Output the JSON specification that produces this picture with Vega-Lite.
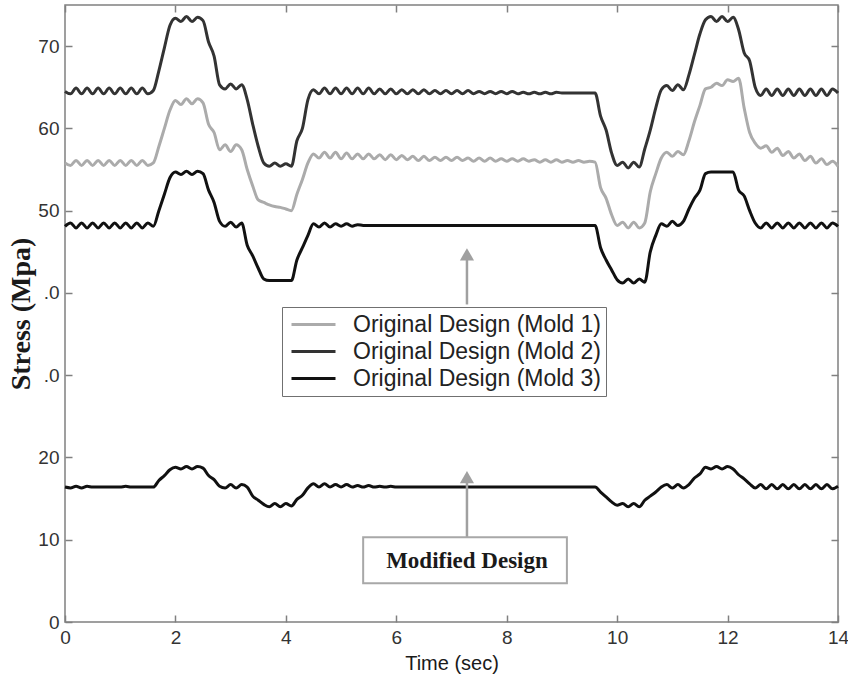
{
  "$schema": "https://vega.github.io/schema/vega-lite/v6.json",
  "width": 773,
  "height": 617,
  "autosize": "none",
  "padding": {"left": 65, "top": 5, "right": 10, "bottom": 60},
  "background": "white",
  "datasets": {
    "m1": [
      {"t":0.0,"v":55.8},{"t":0.1,"v":55.5},{"t":0.2,"v":56.1},{"t":0.3,"v":55.5},{"t":0.4,"v":56.1},{"t":0.5,"v":55.5},{"t":0.6,"v":56.1},{"t":0.7,"v":55.5},{"t":0.8,"v":56.1},{"t":0.9,"v":55.5},{"t":1.0,"v":56.1},{"t":1.1,"v":55.5},{"t":1.2,"v":56.1},{"t":1.3,"v":55.5},{"t":1.4,"v":56.1},{"t":1.5,"v":55.5},{"t":1.6,"v":55.8},
      {"t":1.7,"v":57.8},{"t":1.8,"v":60.0},{"t":1.9,"v":62.2},{"t":2.0,"v":63.4},{"t":2.1,"v":62.9},{"t":2.2,"v":63.6},{"t":2.3,"v":63.0},{"t":2.4,"v":63.6},{"t":2.5,"v":63.1},
      {"t":2.6,"v":60.5},{"t":2.7,"v":59.5},{"t":2.8,"v":57.4},{"t":2.9,"v":58.0},{"t":3.0,"v":57.2},{"t":3.1,"v":58.0},{"t":3.2,"v":57.4},
      {"t":3.3,"v":55.0},{"t":3.4,"v":53.0},{"t":3.5,"v":51.3},{"t":3.6,"v":51.0},{"t":3.7,"v":50.7},{"t":3.8,"v":50.5},{"t":3.9,"v":50.4},{"t":4.0,"v":50.2},{"t":4.1,"v":50.0},
      {"t":4.2,"v":52.0},{"t":4.3,"v":53.8},{"t":4.4,"v":55.8},{"t":4.5,"v":56.9},
      {"t":4.6,"v":56.4},{"t":4.7,"v":57.1},{"t":4.8,"v":56.4},{"t":4.9,"v":57.1},{"t":5.0,"v":56.3},{"t":5.1,"v":57.0},{"t":5.2,"v":56.3},{"t":5.3,"v":56.9},{"t":5.4,"v":56.3},{"t":5.5,"v":56.9},{"t":5.6,"v":56.3},{"t":5.7,"v":56.8},{"t":5.8,"v":56.2},{"t":5.9,"v":56.8},{"t":6.0,"v":56.2},{"t":6.1,"v":56.7},{"t":6.2,"v":56.2},{"t":6.3,"v":56.6},{"t":6.4,"v":56.1},{"t":6.5,"v":56.6},{"t":6.6,"v":56.1},{"t":6.7,"v":56.5},{"t":6.8,"v":56.1},{"t":6.9,"v":56.5},{"t":7.0,"v":56.1},{"t":7.1,"v":56.5},{"t":7.2,"v":56.1},{"t":7.3,"v":56.4},{"t":7.4,"v":56.0},{"t":7.5,"v":56.4},{"t":7.6,"v":56.0},{"t":7.7,"v":56.4},{"t":7.8,"v":56.0},{"t":7.9,"v":56.3},{"t":8.0,"v":56.0},{"t":8.1,"v":56.3},{"t":8.2,"v":56.0},{"t":8.3,"v":56.3},{"t":8.4,"v":56.0},{"t":8.5,"v":56.2},{"t":8.6,"v":55.9},{"t":8.7,"v":56.2},{"t":8.8,"v":55.9},{"t":8.9,"v":56.2},{"t":9.0,"v":55.9},{"t":9.1,"v":56.1},{"t":9.2,"v":55.9},{"t":9.3,"v":56.1},{"t":9.4,"v":55.9},{"t":9.5,"v":56.0},{"t":9.6,"v":55.9},
      {"t":9.7,"v":52.8},{"t":9.8,"v":51.5},{"t":9.9,"v":49.5},{"t":10.0,"v":48.2},{"t":10.1,"v":48.6},{"t":10.2,"v":47.9},{"t":10.3,"v":48.6},{"t":10.4,"v":47.9},{"t":10.5,"v":48.5},
      {"t":10.6,"v":52.3},{"t":10.7,"v":54.5},{"t":10.8,"v":56.4},{"t":10.9,"v":57.1},{"t":11.0,"v":56.6},{"t":11.1,"v":57.2},{"t":11.2,"v":56.8},
      {"t":11.3,"v":58.5},{"t":11.4,"v":60.8},{"t":11.5,"v":62.8},{"t":11.6,"v":64.8},{"t":11.7,"v":65.0},{"t":11.8,"v":65.5},{"t":11.9,"v":65.2},{"t":12.0,"v":65.9},{"t":12.1,"v":65.7},{"t":12.2,"v":66.1},
      {"t":12.3,"v":62.5},{"t":12.4,"v":59.5},{"t":12.5,"v":58.2},{"t":12.6,"v":57.6},{"t":12.7,"v":57.9},{"t":12.8,"v":57.1},{"t":12.9,"v":57.6},{"t":13.0,"v":56.7},{"t":13.1,"v":57.2},{"t":13.2,"v":56.4},{"t":13.3,"v":56.9},{"t":13.4,"v":56.1},{"t":13.5,"v":56.6},{"t":13.6,"v":55.8},{"t":13.7,"v":56.3},{"t":13.8,"v":55.6},{"t":13.9,"v":56.0},{"t":14.0,"v":55.4}
    ],
    "m2": [
      {"t":0.0,"v":64.5},{"t":0.1,"v":64.2},{"t":0.2,"v":64.9},{"t":0.3,"v":64.2},{"t":0.4,"v":64.9},{"t":0.5,"v":64.2},{"t":0.6,"v":64.9},{"t":0.7,"v":64.2},{"t":0.8,"v":64.9},{"t":0.9,"v":64.2},{"t":1.0,"v":64.9},{"t":1.1,"v":64.2},{"t":1.2,"v":64.9},{"t":1.3,"v":64.2},{"t":1.4,"v":64.9},{"t":1.5,"v":64.2},{"t":1.6,"v":64.6},
      {"t":1.7,"v":67.0},{"t":1.8,"v":69.8},{"t":1.9,"v":72.5},{"t":2.0,"v":73.4},{"t":2.1,"v":73.0},{"t":2.2,"v":73.6},{"t":2.3,"v":73.0},{"t":2.4,"v":73.5},{"t":2.5,"v":73.1},
      {"t":2.6,"v":70.5},{"t":2.7,"v":68.8},{"t":2.8,"v":65.3},{"t":2.9,"v":64.8},{"t":3.0,"v":65.4},{"t":3.1,"v":64.8},{"t":3.2,"v":65.3},
      {"t":3.3,"v":63.5},{"t":3.4,"v":60.5},{"t":3.5,"v":57.8},{"t":3.6,"v":55.8},{"t":3.7,"v":55.4},{"t":3.8,"v":55.8},{"t":3.9,"v":55.4},{"t":4.0,"v":55.7},{"t":4.1,"v":55.4},
      {"t":4.2,"v":58.5},{"t":4.3,"v":60.0},{"t":4.4,"v":63.5},{"t":4.5,"v":64.7},
      {"t":4.6,"v":64.2},{"t":4.7,"v":64.9},{"t":4.8,"v":64.2},{"t":4.9,"v":64.9},{"t":5.0,"v":64.2},{"t":5.1,"v":64.9},{"t":5.2,"v":64.2},{"t":5.3,"v":64.9},{"t":5.4,"v":64.2},{"t":5.5,"v":64.9},{"t":5.6,"v":64.2},{"t":5.7,"v":64.8},{"t":5.8,"v":64.2},{"t":5.9,"v":64.8},{"t":6.0,"v":64.2},{"t":6.1,"v":64.7},{"t":6.2,"v":64.2},{"t":6.3,"v":64.7},{"t":6.4,"v":64.2},{"t":6.5,"v":64.7},{"t":6.6,"v":64.2},{"t":6.7,"v":64.6},{"t":6.8,"v":64.2},{"t":6.9,"v":64.6},{"t":7.0,"v":64.2},{"t":7.1,"v":64.6},{"t":7.2,"v":64.2},{"t":7.3,"v":64.6},{"t":7.4,"v":64.2},{"t":7.5,"v":64.5},{"t":7.6,"v":64.2},{"t":7.7,"v":64.5},{"t":7.8,"v":64.2},{"t":7.9,"v":64.5},{"t":8.0,"v":64.2},{"t":8.1,"v":64.5},{"t":8.2,"v":64.2},{"t":8.3,"v":64.4},{"t":8.4,"v":64.2},{"t":8.5,"v":64.4},{"t":8.6,"v":64.2},{"t":8.7,"v":64.4},{"t":8.8,"v":64.2},{"t":8.9,"v":64.4},{"t":9.0,"v":64.3},{"t":9.6,"v":64.3},
      {"t":9.7,"v":61.5},{"t":9.8,"v":59.8},{"t":9.9,"v":57.0},{"t":10.0,"v":55.5},{"t":10.1,"v":55.9},{"t":10.2,"v":55.2},{"t":10.3,"v":55.9},{"t":10.4,"v":55.3},
      {"t":10.5,"v":57.5},{"t":10.6,"v":59.8},{"t":10.7,"v":62.5},{"t":10.8,"v":64.7},{"t":10.9,"v":65.2},{"t":11.0,"v":64.6},{"t":11.1,"v":65.3},{"t":11.2,"v":64.7},
      {"t":11.3,"v":66.5},{"t":11.4,"v":69.0},{"t":11.5,"v":71.5},{"t":11.6,"v":73.2},{"t":11.7,"v":73.6},{"t":11.8,"v":73.0},{"t":11.9,"v":73.6},{"t":12.0,"v":73.0},{"t":12.1,"v":73.5},
      {"t":12.2,"v":72.0},{"t":12.3,"v":69.2},{"t":12.4,"v":68.2},{"t":12.5,"v":65.0},{"t":12.6,"v":64.0},{"t":12.7,"v":64.8},{"t":12.8,"v":64.0},{"t":12.9,"v":64.8},{"t":13.0,"v":64.0},{"t":13.1,"v":64.8},{"t":13.2,"v":64.0},{"t":13.3,"v":64.8},{"t":13.4,"v":64.0},{"t":13.5,"v":64.8},{"t":13.6,"v":64.0},{"t":13.7,"v":64.8},{"t":13.8,"v":64.0},{"t":13.9,"v":64.8},{"t":14.0,"v":64.3}
    ],
    "m3": [
      {"t":0.0,"v":48.1},{"t":0.1,"v":48.5},{"t":0.2,"v":47.9},{"t":0.3,"v":48.5},{"t":0.4,"v":47.9},{"t":0.5,"v":48.5},{"t":0.6,"v":47.9},{"t":0.7,"v":48.5},{"t":0.8,"v":47.9},{"t":0.9,"v":48.5},{"t":1.0,"v":47.9},{"t":1.1,"v":48.5},{"t":1.2,"v":47.9},{"t":1.3,"v":48.5},{"t":1.4,"v":47.9},{"t":1.5,"v":48.5},{"t":1.6,"v":48.1},
      {"t":1.7,"v":50.0},{"t":1.8,"v":52.0},{"t":1.9,"v":54.0},{"t":2.0,"v":54.7},{"t":2.1,"v":54.4},{"t":2.2,"v":54.8},{"t":2.3,"v":54.4},{"t":2.4,"v":54.8},{"t":2.5,"v":54.5},
      {"t":2.6,"v":52.5},{"t":2.7,"v":51.0},{"t":2.8,"v":48.7},{"t":2.9,"v":48.1},{"t":3.0,"v":48.6},{"t":3.1,"v":48.0},{"t":3.2,"v":48.5},
      {"t":3.3,"v":45.8},{"t":3.4,"v":44.5},{"t":3.5,"v":43.0},{"t":3.6,"v":41.7},{"t":3.7,"v":41.5},{"t":4.1,"v":41.5},
      {"t":4.2,"v":44.0},{"t":4.3,"v":45.5},{"t":4.4,"v":47.0},{"t":4.5,"v":48.4},{"t":4.6,"v":48.0},{"t":4.7,"v":48.5},{"t":4.8,"v":48.0},{"t":4.9,"v":48.4},{"t":5.0,"v":48.1},{"t":5.1,"v":48.4},{"t":5.2,"v":48.1},{"t":5.3,"v":48.3},{"t":5.4,"v":48.2},{"t":9.6,"v":48.2},
      {"t":9.7,"v":45.5},{"t":9.8,"v":44.0},{"t":9.9,"v":42.8},{"t":10.0,"v":41.6},{"t":10.1,"v":41.2},{"t":10.2,"v":41.7},{"t":10.3,"v":41.2},{"t":10.4,"v":41.7},{"t":10.5,"v":41.3},
      {"t":10.6,"v":45.0},{"t":10.7,"v":47.0},{"t":10.8,"v":48.4},{"t":10.9,"v":48.1},{"t":11.0,"v":48.7},{"t":11.1,"v":48.2},{"t":11.2,"v":48.7},
      {"t":11.3,"v":50.2},{"t":11.4,"v":51.5},{"t":11.5,"v":52.5},{"t":11.6,"v":54.5},{"t":11.7,"v":54.7},{"t":12.1,"v":54.7},
      {"t":12.2,"v":52.5},{"t":12.3,"v":51.8},{"t":12.4,"v":50.0},{"t":12.5,"v":48.5},{"t":12.6,"v":47.9},{"t":12.7,"v":48.5},{"t":12.8,"v":47.9},{"t":12.9,"v":48.5},{"t":13.0,"v":47.9},{"t":13.1,"v":48.5},{"t":13.2,"v":47.9},{"t":13.3,"v":48.5},{"t":13.4,"v":47.9},{"t":13.5,"v":48.5},{"t":13.6,"v":47.9},{"t":13.7,"v":48.5},{"t":13.8,"v":47.9},{"t":13.9,"v":48.5},{"t":14.0,"v":48.1}
    ],
    "md": [
      {"t":0.0,"v":16.4},{"t":0.1,"v":16.3},{"t":0.2,"v":16.5},{"t":0.3,"v":16.3},{"t":0.4,"v":16.5},{"t":0.5,"v":16.4},{"t":1.0,"v":16.4},{"t":1.1,"v":16.5},{"t":1.2,"v":16.4},{"t":1.6,"v":16.4},
      {"t":1.7,"v":17.2},{"t":1.8,"v":17.8},{"t":1.9,"v":18.5},{"t":2.0,"v":18.8},{"t":2.1,"v":18.6},{"t":2.2,"v":18.9},{"t":2.3,"v":18.6},{"t":2.4,"v":18.9},{"t":2.5,"v":18.7},
      {"t":2.6,"v":17.8},{"t":2.7,"v":17.3},{"t":2.8,"v":16.5},{"t":2.9,"v":16.3},{"t":3.0,"v":16.7},{"t":3.1,"v":16.3},{"t":3.2,"v":16.7},{"t":3.3,"v":16.4},
      {"t":3.4,"v":15.3},{"t":3.5,"v":14.8},{"t":3.6,"v":14.3},{"t":3.7,"v":14.0},{"t":3.8,"v":14.4},{"t":3.9,"v":14.0},{"t":4.0,"v":14.4},{"t":4.1,"v":14.1},
      {"t":4.2,"v":14.9},{"t":4.3,"v":15.4},{"t":4.4,"v":16.3},{"t":4.5,"v":16.8},{"t":4.6,"v":16.4},{"t":4.7,"v":16.8},{"t":4.8,"v":16.4},{"t":4.9,"v":16.7},{"t":5.0,"v":16.4},{"t":5.1,"v":16.7},{"t":5.2,"v":16.4},{"t":5.3,"v":16.6},{"t":5.4,"v":16.4},{"t":5.5,"v":16.6},{"t":5.6,"v":16.4},{"t":5.7,"v":16.5},{"t":5.8,"v":16.4},{"t":5.9,"v":16.5},{"t":6.0,"v":16.4},{"t":9.6,"v":16.4},
      {"t":9.7,"v":15.8},{"t":9.8,"v":15.2},{"t":9.9,"v":14.6},{"t":10.0,"v":14.2},{"t":10.1,"v":14.4},{"t":10.2,"v":14.0},{"t":10.3,"v":14.4},{"t":10.4,"v":14.0},
      {"t":10.5,"v":14.8},{"t":10.6,"v":15.3},{"t":10.7,"v":15.8},{"t":10.8,"v":16.4},{"t":10.9,"v":16.7},{"t":11.0,"v":16.3},{"t":11.1,"v":16.7},{"t":11.2,"v":16.3},{"t":11.3,"v":16.7},
      {"t":11.4,"v":17.5},{"t":11.5,"v":18.0},{"t":11.6,"v":18.8},{"t":11.7,"v":18.6},{"t":11.8,"v":18.9},{"t":11.9,"v":18.6},{"t":12.0,"v":18.9},{"t":12.1,"v":18.6},
      {"t":12.2,"v":17.9},{"t":12.3,"v":17.4},{"t":12.4,"v":16.8},{"t":12.5,"v":16.3},{"t":12.6,"v":16.7},{"t":12.7,"v":16.2},{"t":12.8,"v":16.7},{"t":12.9,"v":16.2},{"t":13.0,"v":16.7},{"t":13.1,"v":16.2},{"t":13.2,"v":16.7},{"t":13.3,"v":16.2},{"t":13.4,"v":16.7},{"t":13.5,"v":16.2},{"t":13.6,"v":16.7},{"t":13.7,"v":16.2},{"t":13.8,"v":16.7},{"t":13.9,"v":16.2},{"t":14.0,"v":16.5}
    ]
  },
  "layer": [
    {
      "data": {"name": "m1"},
      "mark": {"type": "line", "strokeWidth": 3, "interpolate": "monotone"},
      "encoding": {
        "x": {"field": "t", "type": "quantitative", "scale": {"domain": [0, 14], "nice": false},
              "axis": {"orient": "bottom", "values": [0,2,4,6,8,10,12,14], "title": "Time (sec)", "titleFont": "Liberation Sans", "titleFontSize": 20, "titleFontWeight": "normal", "titlePadding": 6, "labelFlush": false}},
        "y": {"field": "v", "type": "quantitative", "scale": {"domain": [0, 75], "nice": false, "zero": false},
              "axis": {"orient": "left", "values": [0,10,20,30,40,50,60,70], "labelExpr": "datum.value == 40 || datum.value == 30 ? '.0' : datum.label", "title": "Stress (Mpa)", "titleFont": "Liberation Serif", "titleFontSize": 28, "titleFontWeight": "bold", "titlePadding": 2, "labelFlush": false}},
        "color": {"datum": "Original Design (Mold 1)", "type": "nominal",
                  "scale": {"domain": ["Original Design (Mold 1)", "Original Design (Mold 2)", "Original Design (Mold 3)", "Modified Design"], "range": ["#ababab", "#333333", "#111111", "#111111"]},
                  "legend": {"values": ["Original Design (Mold 1)", "Original Design (Mold 2)", "Original Design (Mold 3)"], "title": null, "orient": "none", "legendX": 217, "legendY": 302}}
      }
    },
    {
      "data": {"name": "m2"},
      "mark": {"type": "line", "strokeWidth": 3, "interpolate": "monotone"},
      "encoding": {
        "x": {"field": "t", "type": "quantitative", "axis": null},
        "y": {"field": "v", "type": "quantitative", "axis": null},
        "color": {"datum": "Original Design (Mold 2)", "type": "nominal"}
      }
    },
    {
      "data": {"name": "m3"},
      "mark": {"type": "line", "strokeWidth": 3, "interpolate": "monotone"},
      "encoding": {
        "x": {"field": "t", "type": "quantitative", "axis": null},
        "y": {"field": "v", "type": "quantitative", "axis": null},
        "color": {"datum": "Original Design (Mold 3)", "type": "nominal"}
      }
    },
    {
      "data": {"name": "md"},
      "mark": {"type": "line", "strokeWidth": 3, "interpolate": "monotone"},
      "encoding": {
        "x": {"field": "t", "type": "quantitative", "axis": null},
        "y": {"field": "v", "type": "quantitative", "axis": null},
        "color": {"datum": "Modified Design", "type": "nominal"}
      }
    },
    {
      "data": {"values": [{"t": 7.28, "a": 38.6, "b": 44.5}, {"t": 7.28, "a": 10.3, "b": 17.0}]},
      "mark": {"type": "rule", "color": "#a0a0a0", "strokeWidth": 2.5},
      "encoding": {
        "x": {"field": "t", "type": "quantitative", "axis": null},
        "y": {"field": "a", "type": "quantitative", "axis": null},
        "y2": {"field": "b"}
      }
    },
    {
      "data": {"values": [{"t": 7.28, "v": 44.7}, {"t": 7.28, "v": 17.6}]},
      "mark": {"type": "point", "shape": "triangle-up", "filled": true, "color": "#a0a0a0", "size": 200, "opacity": 1},
      "encoding": {
        "x": {"field": "t", "type": "quantitative", "axis": null},
        "y": {"field": "v", "type": "quantitative", "axis": null}
      }
    },
    {
      "data": {"values": [{"x0": 5.4, "x1": 9.09, "y0": 4.7, "y1": 10.3}]},
      "mark": {"type": "rect", "fill": "white", "stroke": "#a8a8a8", "strokeWidth": 2},
      "encoding": {
        "x": {"field": "x0", "type": "quantitative",
              "axis": {"orient": "top", "values": [0,2,4,6,8,10,12,14], "labels": false, "title": null}},
        "x2": {"field": "x1"},
        "y": {"field": "y0", "type": "quantitative",
              "axis": {"orient": "right", "values": [0,10,20,30,40,50,60,70], "labels": false, "title": null}},
        "y2": {"field": "y1"}
      }
    },
    {
      "data": {"values": [{"t": 7.28, "v": 7.4, "label": "Modified Design"}]},
      "mark": {"type": "text", "font": "Liberation Serif", "fontWeight": "bold", "fontSize": 23, "color": "#1a1a1a", "align": "center", "baseline": "middle"},
      "encoding": {
        "x": {"field": "t", "type": "quantitative", "axis": null},
        "y": {"field": "v", "type": "quantitative", "axis": null},
        "text": {"field": "label"}
      }
    }
  ],
  "resolve": {"axis": {"x": "independent", "y": "independent"}},
  "config": {
    "view": {"stroke": "#808080", "strokeWidth": 1.5},
    "axis": {"domain": false, "grid": false, "tickColor": "#808080", "tickSize": -7, "tickWidth": 1.5,
             "labelFont": "Liberation Sans", "labelFontSize": 19, "labelColor": "#333333", "labelPadding": 13, "titleColor": "#1a1a1a"},
    "legend": {"symbolType": "M-2,0H2", "symbolSize": 484, "symbolStrokeWidth": 3, "labelFont": "Liberation Sans", "labelFontSize": 23, "labelColor": "#222222", "labelLimit": 500,
               "strokeColor": "#707070", "fillColor": "white", "padding": 5, "rowPadding": 2, "labelOffset": 27, "symbolOffset": 14, "cornerRadius": 0}
  }
}
